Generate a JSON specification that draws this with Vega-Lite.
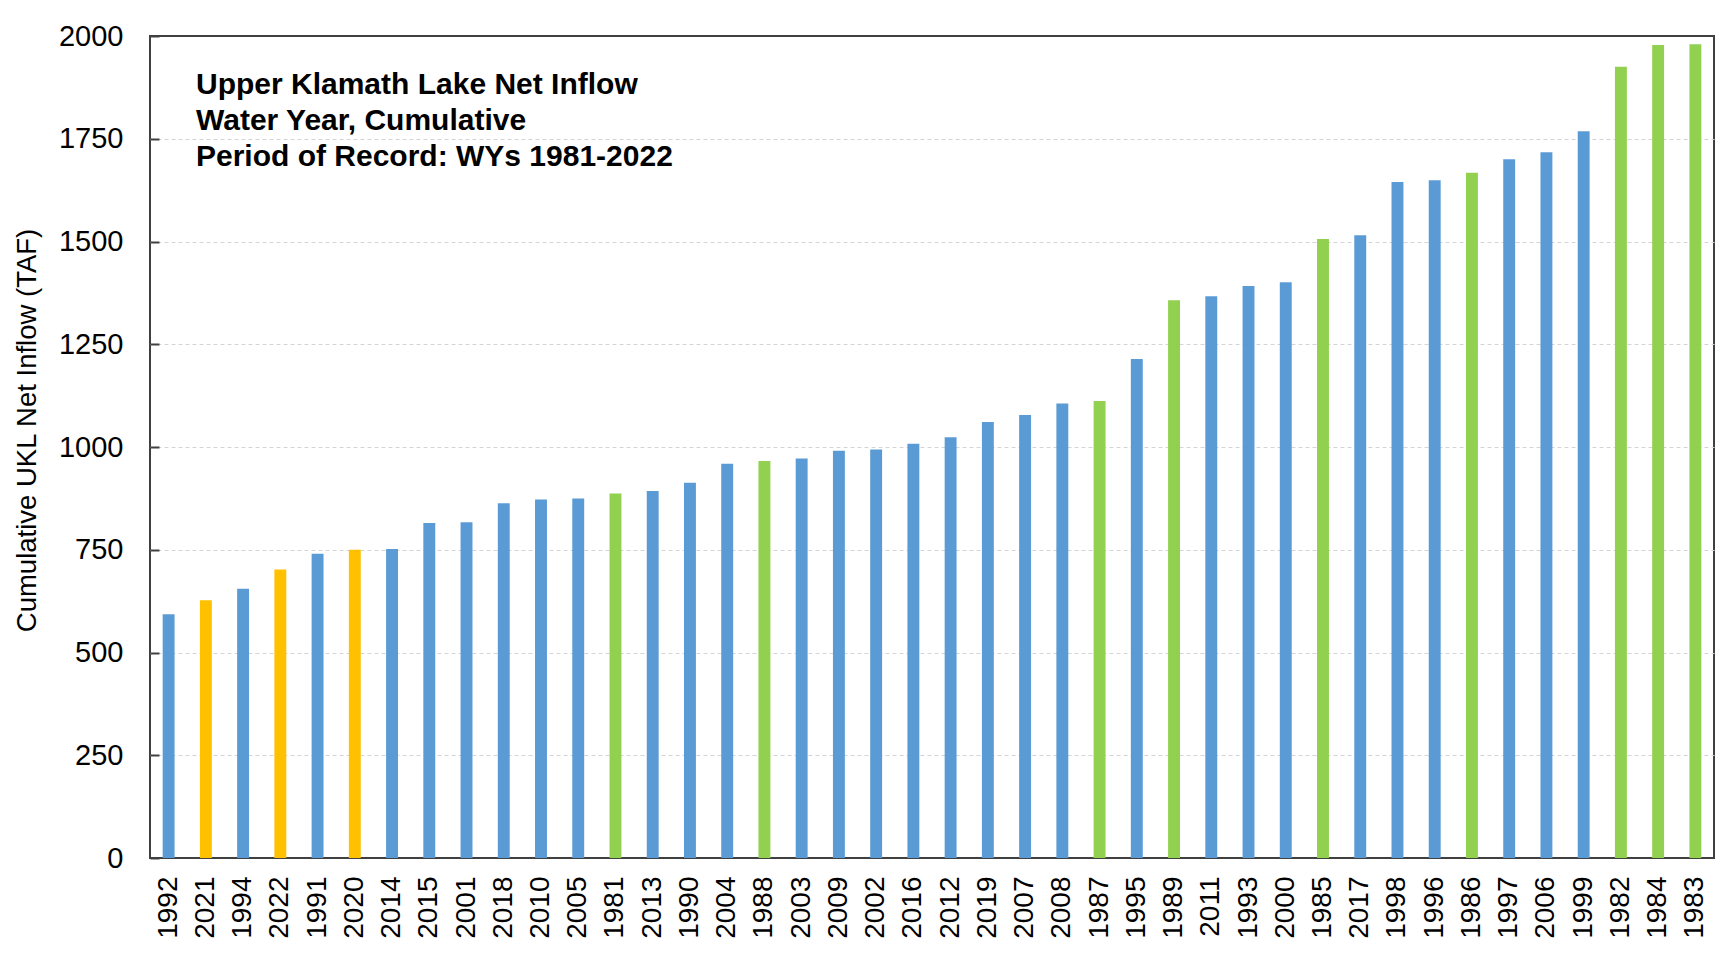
{
  "$schema": "https://vega.github.io/schema/vega-lite/v6.json",
  "autosize": {"type": "none"},
  "width": 1564,
  "height": 822,
  "padding": {"left": 150, "top": 36, "right": 2, "bottom": 106},
  "background": "white",
  "title": {
    "text": ["Upper Klamath Lake Net Inflow", "Water Year, Cumulative", "Period of Record: WYs 1981-2022"],
    "anchor": "start",
    "frame": "group",
    "orient": "top",
    "baseline": "top",
    "font": "Liberation Sans",
    "fontSize": 30,
    "fontWeight": "bold",
    "color": "black",
    "lineHeight": 36,
    "dx": 46,
    "offset": -150
  },
  "data": {
    "values": [
      {"year": "1992", "taf": 593, "period": "1990-2019"},
      {"year": "2021", "taf": 627, "period": "2020-2022"},
      {"year": "1994", "taf": 655, "period": "1990-2019"},
      {"year": "2022", "taf": 702, "period": "2020-2022"},
      {"year": "1991", "taf": 740, "period": "1990-2019"},
      {"year": "2020", "taf": 750, "period": "2020-2022"},
      {"year": "2014", "taf": 752, "period": "1990-2019"},
      {"year": "2015", "taf": 815, "period": "1990-2019"},
      {"year": "2001", "taf": 817, "period": "1990-2019"},
      {"year": "2018", "taf": 863, "period": "1990-2019"},
      {"year": "2010", "taf": 872, "period": "1990-2019"},
      {"year": "2005", "taf": 875, "period": "1990-2019"},
      {"year": "1981", "taf": 887, "period": "1981-1989"},
      {"year": "2013", "taf": 893, "period": "1990-2019"},
      {"year": "1990", "taf": 913, "period": "1990-2019"},
      {"year": "2004", "taf": 959, "period": "1990-2019"},
      {"year": "1988", "taf": 966, "period": "1981-1989"},
      {"year": "2003", "taf": 972, "period": "1990-2019"},
      {"year": "2009", "taf": 991, "period": "1990-2019"},
      {"year": "2002", "taf": 994, "period": "1990-2019"},
      {"year": "2016", "taf": 1008, "period": "1990-2019"},
      {"year": "2012", "taf": 1024, "period": "1990-2019"},
      {"year": "2019", "taf": 1061, "period": "1990-2019"},
      {"year": "2007", "taf": 1078, "period": "1990-2019"},
      {"year": "2008", "taf": 1106, "period": "1990-2019"},
      {"year": "1987", "taf": 1112, "period": "1981-1989"},
      {"year": "1995", "taf": 1214, "period": "1990-2019"},
      {"year": "1989", "taf": 1357, "period": "1981-1989"},
      {"year": "2011", "taf": 1367, "period": "1990-2019"},
      {"year": "1993", "taf": 1392, "period": "1990-2019"},
      {"year": "2000", "taf": 1401, "period": "1990-2019"},
      {"year": "1985", "taf": 1506, "period": "1981-1989"},
      {"year": "2017", "taf": 1515, "period": "1990-2019"},
      {"year": "1998", "taf": 1645, "period": "1990-2019"},
      {"year": "1996", "taf": 1649, "period": "1990-2019"},
      {"year": "1986", "taf": 1667, "period": "1981-1989"},
      {"year": "1997", "taf": 1700, "period": "1990-2019"},
      {"year": "2006", "taf": 1717, "period": "1990-2019"},
      {"year": "1999", "taf": 1768, "period": "1990-2019"},
      {"year": "1982", "taf": 1925, "period": "1981-1989"},
      {"year": "1984", "taf": 1978, "period": "1981-1989"},
      {"year": "1983", "taf": 1980, "period": "1981-1989"}
    ]
  },
  "mark": {"type": "bar"},
  "encoding": {
    "x": {
      "field": "year",
      "type": "nominal",
      "sort": null,
      "scale": {"paddingInner": 0.68, "paddingOuter": 0.34},
      "axis": {
        "title": null,
        "domain": false,
        "ticks": false,
        "labelAngle": -90,
        "labelAlign": "right",
        "labelBaseline": "middle",
        "labelFont": "Liberation Sans",
        "labelFontSize": 28,
        "labelColor": "black",
        "labelPadding": 18,
        "labelOverlap": false
      }
    },
    "y": {
      "field": "taf",
      "type": "quantitative",
      "scale": {"domain": [0, 2000], "nice": false},
      "axis": {
        "title": "Cumulative UKL Net Inflow (TAF)",
        "titleFont": "Liberation Sans",
        "titleFontSize": 27.5,
        "titleFontWeight": "normal",
        "titleColor": "black",
        "titleX": -123,
        "titleY": 394,
        "titleBaseline": "middle",
        "values": [0, 250, 500, 750, 1000, 1250, 1500, 1750, 2000],
        "format": "d",
        "domain": false,
        "grid": true,
        "gridColor": "#d4d4d4",
        "gridDash": [4, 3],
        "gridWidth": 1,
        "gridOpacity": {"condition": {"test": "datum.value === 0 || datum.value === 2000", "value": 0}, "value": 1},
        "tickSize": -9,
        "tickWidth": 2,
        "tickColor": "#404040",
        "labelFont": "Liberation Sans",
        "labelFontSize": 29,
        "labelColor": "black",
        "labelPadding": 36
      }
    },
    "color": {
      "field": "period",
      "type": "nominal",
      "scale": {"domain": ["1981-1989", "1990-2019", "2020-2022"], "range": ["#92D050", "#5B9BD5", "#FFC000"]},
      "legend": null
    }
  },
  "config": {
    "view": {"stroke": "#404040", "strokeWidth": 2}
  }
}
